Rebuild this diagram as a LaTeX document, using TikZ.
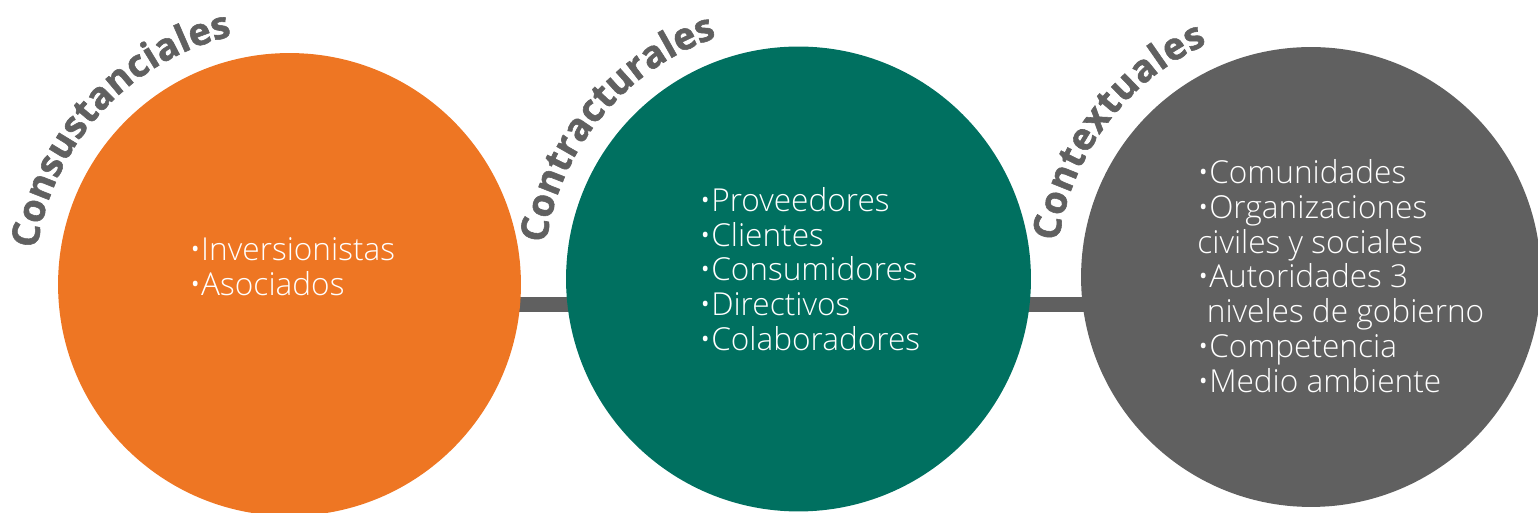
\documentclass[tikz,border=0pt]{standalone}
\usepackage{fontspec}
\setmainfont{Open Sans}
\newfontfamily\itemfont{Open Sans Light}
\newfontfamily\titlefont{Open Sans}[BoldFeatures={FakeBold=1.5}]
\usetikzlibrary{decorations.text,backgrounds}
\definecolor{naranja}{HTML}{EE7623}
\definecolor{verde}{HTML}{007060}
\definecolor{gris}{HTML}{606060}
\begin{document}
\begin{tikzpicture}[x=0.02cm, y=0.02cm,
  bola/.style={circle, minimum size=#1, inner sep=0pt},
  lista/.style={anchor=west, align=left, text=white, inner sep=0pt,
    font=\itemfont\fontsize{18}{19.8}\selectfont},
  barra/.style={gris, line width=0.3cm},
  titulo/.style={decorate, decoration={text along path, text align={fit to path},
    text={|\titlefont\bfseries\fontsize{21.5}{21.5}\selectfont\color{gris}|#1}}}]
\useasboundingbox (0,0) rectangle (1538,513);
\node[bola=9.26cm, fill=naranja] (cons) at (289.5,228.5) {};
\node[bola=9.3cm, fill=verde] (cont) at (798.5,234) {};
\node[bola=9.2cm, fill=gris] (ctxt) at (1311,236) {};
\coordinate (bary) at (0,208.5);
\begin{scope}[on background layer]
\draw[barra] (cons.center |- bary) -- (ctxt.center |- bary);
\end{scope}
% titulos curvos
\path[titulo=Consustanciales] (cons.center) ++(172:5.1cm) arc[start angle=172, end angle=103, radius=5.1cm];
\path[titulo=Contracturales] (cont.center) ++(172:5.1cm) arc[start angle=172, end angle=109, radius=5.1cm];
\path[titulo=Contextuales] (ctxt.center) ++(172:5.1cm) arc[start angle=172, end angle=114, radius=5.1cm];
% listas
\node[lista] (l1) at (189,246) {•Inversionistas\\•Asociados};
\node[lista] (l2) at (699,244) {•Proveedores\\•Clientes\\•Consumidores\\•Directivos\\•Colaboradores};
\node[lista] (l3) at (1197,237) {•Comunidades\\•Organizaciones\\civiles y sociales\\•Autoridades 3\\\hspace{0.3em}niveles de gobierno\\•Competencia\\•Medio ambiente};
\end{tikzpicture}
\end{document}
